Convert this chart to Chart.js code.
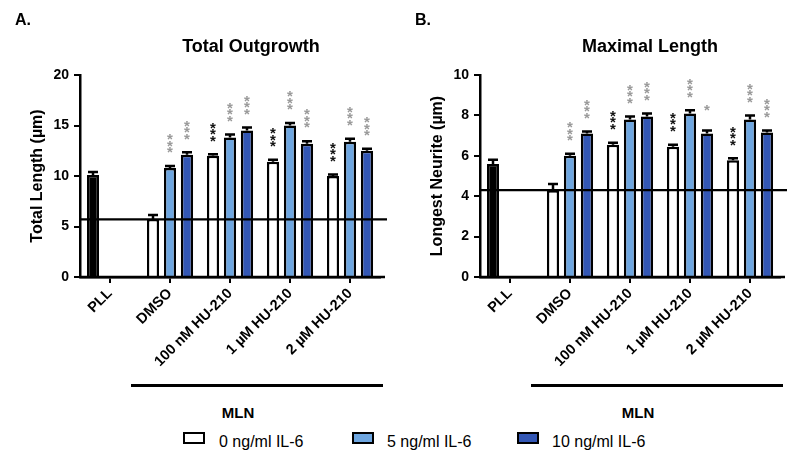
<!DOCTYPE html>
<html>
<head>
<meta charset="utf-8">
<script src="https://cdn.jsdelivr.net/npm/chart.js@4.4.1/dist/chart.umd.min.js"></script>
<style>
  html, body { margin: 0; padding: 0; background: #fff; }
  #wrap { position: relative; width: 787px; height: 450px; overflow: hidden; font-family: "Liberation Sans", Arial, sans-serif; color: #000; }
  .abs { position: absolute; white-space: nowrap; line-height: 1; }
  .panel { font-weight: bold; font-size: 16px; }
  .title { font-weight: bold; font-size: 18px; }
  .mln { font-weight: bold; font-size: 15px; }
  .uline { position: absolute; height: 3px; background: #000; }
  .lbox { position: absolute; width: 18px; height: 8px; border: 2.5px solid #000; }
  .ltext { font-size: 16px; }
  canvas { position: absolute; top: 0; }
</style>
</head>
<body>
<div id="wrap">
  <canvas id="c1" width="400" height="380" style="left:0px"></canvas>
  <canvas id="c2" width="387" height="380" style="left:400px"></canvas>

  <div class="abs panel" style="left:15px; top:12px;">A.</div>
  <div class="abs panel" style="left:415px; top:12px;">B.</div>
  <div class="abs title" style="left:251px; top:37px; transform:translateX(-50%);">Total Outgrowth</div>
  <div class="abs title" style="left:650px; top:37px; transform:translateX(-50%);">Maximal Length</div>

  <div class="uline" style="left:131px; width:252px; top:384px;"></div>
  <div class="uline" style="left:531px; width:252px; top:384px;"></div>
  <div class="abs mln" style="left:238px; top:405px; transform:translateX(-50%);">MLN</div>
  <div class="abs mln" style="left:638px; top:405px; transform:translateX(-50%);">MLN</div>

  <div id="legend"></div>
</div>
<script>
// ---------- DATA ----------
const categories = ['PLL', 'DMSO', '100 nM HU-210', '1 \u00b5M HU-210', '2 \u00b5M HU-210'];
const seriesNames = ['0 ng/ml IL-6', '5 ng/ml IL-6', '10 ng/ml IL-6'];

// Panel A: Total Outgrowth (µm)
const totalIL0    = [10.1, 5.75, 12.0, 11.4, 10.0];
const totalIL0Err = [0.3, 0.4, 0.15, 0.2, 0.15];
const totalIL5    = [null, 10.8, 13.8, 15.0, 13.4];
const totalIL5Err = [null, 0.2, 0.3, 0.25, 0.3];
const totalIL10    = [null, 12.1, 14.5, 13.2, 12.5];
const totalIL10Err = [null, 0.25, 0.3, 0.25, 0.2];
const totalRef = 5.7;
const totalSig0  = [null, null, '***', '***', '***'];
const totalSig5  = [null, '***', '***', '***', '***'];
const totalSig10 = [null, '***', '***', '***', '***'];
const totalTicks = { min: 0, max: 20, step: 5 };

// Panel B: Maximal Length (µm)
const maxIL0    = [5.6, 4.3, 6.55, 6.45, 5.78];
const maxIL0Err = [0.2, 0.3, 0.1, 0.1, 0.1];
const maxIL5    = [null, 6.0, 7.8, 8.1, 7.8];
const maxIL5Err = [null, 0.1, 0.15, 0.15, 0.2];
const maxIL10    = [null, 7.1, 7.95, 7.1, 7.15];
const maxIL10Err = [null, 0.1, 0.15, 0.15, 0.1];
const maxRef = 4.3;
const maxSig0  = [null, null, '***', '***', '***'];
const maxSig5  = [null, '***', '***', '***', '***'];
const maxSig10 = [null, '***', '***', '*', '***'];
const maxTicks = { min: 0, max: 10, step: 2 };

// ---------- STYLE ----------
const FONT = '"Liberation Sans", Arial, sans-serif';
const pllColor = '#000000';
const seriesColors = ['#ffffff', '#6ea6e0', '#3357b5'];
const sigColors = ['#111111', '#9a9a9a', '#9a9a9a'];

// legend (HTML)
(function buildLegend() {
  const lg = document.getElementById('legend');
  const boxX = [183, 352, 517];
  const textX = [219, 387, 552];
  seriesNames.forEach((n, i) => {
    const b = document.createElement('div');
    b.className = 'lbox';
    b.style.left = boxX[i] + 'px';
    b.style.top = '432px';
    b.style.background = seriesColors[i];
    lg.appendChild(b);
    const t = document.createElement('div');
    t.className = 'abs ltext';
    t.style.left = textX[i] + 'px';
    t.style.top = '434px';
    t.textContent = n;
    lg.appendChild(t);
  });
})();

const extrasPlugin = {
  id: 'extras',
  afterDatasetsDraw(chart) {
    const ctx = chart.ctx;
    const ys = chart.scales.y;
    const ca = chart.chartArea;
    const ex = chart.options.plugins.extras;
    ctx.save();
    chart.data.datasets.forEach((ds, di) => {
      const meta = chart.getDatasetMeta(di);
      meta.data.forEach((el, j) => {
        const v = ds.data[j];
        if (v === null || v === undefined) return;
        const e = ex.errors[di][j] || 0;
        const yTop = ys.getPixelForValue(v + e);
        // error bar (upper only, with cap)
        ctx.strokeStyle = '#000';
        ctx.lineWidth = 2.5;
        ctx.beginPath();
        ctx.moveTo(el.x, el.y);
        ctx.lineTo(el.x, yTop);
        ctx.moveTo(el.x - 5, yTop);
        ctx.lineTo(el.x + 5, yTop);
        ctx.stroke();
        // significance stars, stacked vertically
        const s = ex.sig[di][j];
        if (s) {
          const n = s.length;
          const step = 6.5;
          const centerY = yTop - 15 - 9;
          ctx.fillStyle = sigColors[di];
          ctx.font = 'bold 15px ' + FONT;
          ctx.textAlign = 'center';
          ctx.textBaseline = 'alphabetic';
          for (let k = 0; k < n; k++) {
            const cy = centerY + ((n - 1) / 2 - k) * step;
            ctx.fillText('*', el.x, cy + 8.8);
          }
        }
      });
    });
    // reference line
    const yr = ys.getPixelForValue(ex.ref);
    ctx.strokeStyle = '#000';
    ctx.lineWidth = 2.2;
    ctx.beginPath();
    ctx.moveTo(ca.left, yr);
    ctx.lineTo(ca.right + 7, yr);
    ctx.stroke();
    // x axis extension
    ctx.lineWidth = 2.5;
    ctx.beginPath();
    ctx.moveTo(ca.left, ca.bottom);
    ctx.lineTo(ca.right + 5, ca.bottom);
    ctx.stroke();
    ctx.restore();
  }
};

function makeChart(id, yTitle, vals, errs, sig, ref, ticks, rightPad) {
  const fill0 = categories.map((c, i) => i === 0 ? pllColor : seriesColors[0]);
  const datasets = vals.map((d, i) => ({
    label: seriesNames[i],
    data: d,
    backgroundColor: i === 0 ? fill0 : seriesColors[i],
    borderColor: '#000',
    borderWidth: 2.5,
    borderSkipped: 'bottom',
    categoryPercentage: 0.85,
    barPercentage: 0.72
  }));
  return new Chart(document.getElementById(id), {
    type: 'bar',
    data: { labels: categories, datasets },
    plugins: [extrasPlugin],
    options: {
      responsive: false,
      animation: false,
      layout: { padding: { top: 75, right: rightPad, left: 0, bottom: 0 } },
      plugins: {
        legend: { display: false },
        tooltip: { enabled: false },
        title: { display: false },
        extras: { errors: errs, sig: sig, ref: ref }
      },
      scales: {
        x: {
          afterFit(s) { s.height = 103; },
          grid: { display: true, drawOnChartArea: false, drawTicks: true, tickLength: 6, offset: false, color: '#000', lineWidth: 2 },
          border: { display: true, color: '#000', width: 2.5 },
          ticks: {
            color: '#000',
            font: { family: FONT, size: 14.5, weight: 'bold' },
            minRotation: 45, maxRotation: 45, padding: 2, autoSkip: false
          }
        },
        y: {
          min: ticks.min, max: ticks.max,
          afterFit(s) { s.width = 80; },
          grid: { display: true, drawOnChartArea: false, drawTicks: true, tickLength: 6, color: '#000', lineWidth: 2 },
          border: { display: true, color: '#000', width: 2.5 },
          ticks: {
            stepSize: ticks.step, color: '#000', padding: 5,
            font: { family: FONT, size: 14, weight: 'bold' }
          },
          title: {
            display: true, text: yTitle, color: '#000',
            font: { family: FONT, size: 16, weight: 'bold' },
            padding: { top: 28, bottom: 0 }
          }
        }
      }
    }
  });
}

makeChart('c1', 'Total Length (\u00b5m)',
  [totalIL0, totalIL5, totalIL10],
  [totalIL0Err, totalIL5Err, totalIL10Err],
  [totalSig0, totalSig5, totalSig10],
  totalRef, totalTicks, 20);

makeChart('c2', 'Longest Neurite (\u00b5m)',
  [maxIL0, maxIL5, maxIL10],
  [maxIL0Err, maxIL5Err, maxIL10Err],
  [maxSig0, maxSig5, maxSig10],
  maxRef, maxTicks, 7);
</script>
</body>
</html>
